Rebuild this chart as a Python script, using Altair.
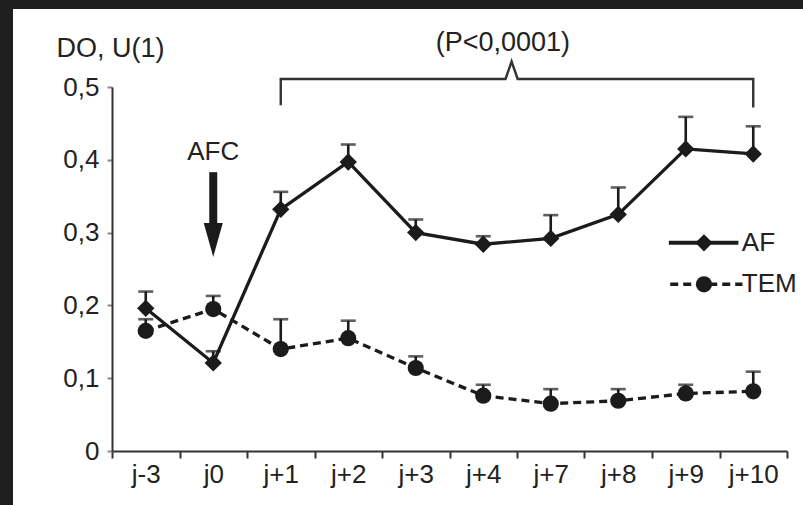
import json
import altair as alt
import pandas as pd

# ---------------- data ----------------
categories = ["j-3", "j0", "j+1", "j+2", "j+3", "j+4", "j+7", "j+8", "j+9", "j+10"]
af_values = [0.196, 0.121, 0.332, 0.397, 0.300, 0.284, 0.292, 0.325, 0.415, 0.408]
af_upper = [0.219, 0.137, 0.356, 0.421, 0.318, 0.295, 0.324, 0.362, 0.459, 0.446]
tem_values = [0.165, 0.195, 0.140, 0.155, 0.114, 0.076, 0.065, 0.069, 0.079, 0.082]
tem_upper = [0.181, 0.213, 0.181, 0.179, 0.130, 0.091, 0.085, 0.085, 0.091, 0.109]
series_names = ["AF", "TEM"]
y_ticks = [0, 0.1, 0.2, 0.3, 0.4, 0.5]
y_title = "DO, U(1)"
p_text = "(P<0,0001)"
afc_text = "AFC"

# annotation anchors (in data units)
brace_x = [2, 2, 5.33, 5.42, 5.51, 9, 9]
brace_y = [0.475, 0.511, 0.511, 0.535, 0.511, 0.511, 0.472]
p_pos = (5.29, 0.561)
afc_pos = (1.0, 0.411)
arrow_shaft = (1.0, 0.383, 0.305)
arrow_head = (1.0, 0.290)
legend_y = [0.286, 0.229]
legend_x0 = [7.75, 7.77]
legend_x1 = [8.78, 8.84]
legend_mark_x = 8.27
legend_text_x = 8.86

rows = []
for i, c in enumerate(categories):
    rows.append(dict(x=i, cat=c, series=series_names[0], y=af_values[i], upper=af_upper[i]))
    rows.append(dict(x=i, cat=c, series=series_names[1], y=tem_values[i], upper=tem_upper[i]))
df = pd.DataFrame(rows)

INK = "#1b1b1b"
AXC = "#333333"
TXT = "#222222"
FRAME = "#1e1e1e"
FONT = "Liberation Sans"
FS = 26
FS_BIG = 27

cat_js = json.dumps(categories).replace('"', "'")
x_vals = [i / 2 - 0.5 for i in range(2 * len(categories) + 1)]

X = alt.X(
    "x:Q",
    scale=alt.Scale(domain=[-0.5, len(categories) - 0.5], nice=False, zero=False),
    axis=alt.Axis(
        values=x_vals,
        labelExpr=f"datum.value % 1 === 0 ? {cat_js}[datum.value] : ''",
        tickSize=7,
        tickColor={"condition": {"test": "datum.value % 1 === 0", "value": "transparent"}, "value": AXC},
        labelFlush=False,
        labelPadding=3,
        title=None,
    ),
)
Y = alt.Y(
    "y:Q",
    scale=alt.Scale(domain=[0, 0.5], nice=False),
    axis=alt.Axis(
        values=y_ticks,
        labelExpr="datum.value == 0 ? '0' : replace(format(datum.value, '.1f'), '.', ',')",
        tickSize=5,
        labelPadding=8,
        title=y_title,
        titleAngle=0,
        titleAlign="left",
        titleBaseline="middle",
        titleX=-56,
        titleY=-39,
        titleFont=FONT,
        titleFontSize=FS_BIG,
        titleFontWeight="normal",
        titleColor=TXT,
    ),
)

base = alt.Chart(df)

# dark frame strips (left and top) around the white page
frame_df = pd.DataFrame({"a": [0]})
frame_left = alt.Chart(frame_df).mark_rect(color=FRAME).encode(
    x=alt.value(-112), x2=alt.value(-99), y=alt.value(-87), y2=alt.value(418)
)
frame_top = alt.Chart(frame_df).mark_rect(color=FRAME).encode(
    x=alt.value(-112), x2=alt.value(691), y=alt.value(-87), y2=alt.value(-78)
)

err_rule = base.mark_rule(strokeWidth=2.6, color=INK).encode(x=X, y=Y, y2="upper:Q")
err_cap = base.mark_tick(orient="horizontal", size=15, thickness=2.6, color=INK).encode(
    x=X, y=alt.Y("upper:Q")
)

af_line = base.transform_filter(alt.datum.series == series_names[0]).mark_line(
    strokeWidth=3.3, color=INK
).encode(x=X, y=Y)
tem_line = base.transform_filter(alt.datum.series == series_names[1]).mark_line(
    strokeWidth=3.3, color=INK, strokeDash=[8, 5]
).encode(x=X, y=Y)
af_pts = base.transform_filter(alt.datum.series == series_names[0]).mark_point(
    shape="diamond", filled=True, size=300, color=INK, opacity=1
).encode(x=X, y=Y)
tem_pts = base.transform_filter(alt.datum.series == series_names[1]).mark_point(
    shape="circle", filled=True, size=262, color=INK, opacity=1
).encode(x=X, y=Y)

brace_df = pd.DataFrame({"x": brace_x, "y": brace_y, "o": list(range(len(brace_x)))})
brace = alt.Chart(brace_df).mark_line(strokeWidth=2.4, color=AXC, clip=False).encode(
    x=X, y=Y, order="o:Q"
)

p_df = pd.DataFrame({"x": [p_pos[0]], "y": [p_pos[1]], "t": [p_text]})
p_label = alt.Chart(p_df).mark_text(font=FONT, fontSize=FS_BIG, color=TXT, align="center", baseline="middle").encode(
    x=X, y=Y, text="t:N"
)
afc_df = pd.DataFrame({"x": [afc_pos[0]], "y": [afc_pos[1]], "t": [afc_text]})
afc_label = alt.Chart(afc_df).mark_text(font=FONT, fontSize=FS, color=TXT, align="center", baseline="middle").encode(
    x=X, y=Y, text="t:N"
)

shaft_df = pd.DataFrame({"x": [arrow_shaft[0]], "y": [arrow_shaft[1]], "y2": [arrow_shaft[2]]})
shaft = alt.Chart(shaft_df).mark_rule(strokeWidth=8, color=INK).encode(x=X, y=Y, y2="y2:Q")
head_df = pd.DataFrame({"x": [arrow_head[0]], "y": [arrow_head[1]]})
head = alt.Chart(head_df).mark_point(
    shape="M-0.56,-1L0.56,-1L0,1Z", filled=True, size=1156, color=INK, opacity=1
).encode(x=X, y=Y)

leg_line_df = pd.DataFrame({
    "x": [legend_x0[0], legend_x1[0], legend_x0[1], legend_x1[1]],
    "y": [legend_y[0], legend_y[0], legend_y[1], legend_y[1]],
    "s": [series_names[0], series_names[0], series_names[1], series_names[1]],
})
leg_af = alt.Chart(leg_line_df).transform_filter(alt.datum.s == series_names[0]).mark_line(
    strokeWidth=4, color=INK
).encode(x=X, y=Y)
leg_tem = alt.Chart(leg_line_df).transform_filter(alt.datum.s == series_names[1]).mark_line(
    strokeWidth=3.5, color=INK, strokeDash=[8, 5]
).encode(x=X, y=Y)
leg_pt_df = pd.DataFrame({"x": [legend_mark_x, legend_mark_x], "y": legend_y, "s": series_names})
leg_af_pt = alt.Chart(leg_pt_df).transform_filter(alt.datum.s == series_names[0]).mark_point(
    shape="diamond", filled=True, size=300, color=INK, opacity=1
).encode(x=X, y=Y)
leg_tem_pt = alt.Chart(leg_pt_df).transform_filter(alt.datum.s == series_names[1]).mark_point(
    shape="circle", filled=True, size=262, color=INK, opacity=1
).encode(x=X, y=Y)
leg_txt_df = pd.DataFrame({"x": [legend_text_x, legend_text_x], "y": legend_y, "t": series_names})
leg_txt = alt.Chart(leg_txt_df).mark_text(
    font=FONT, fontSize=FS, color=TXT, align="left", baseline="middle", dx=-2
).encode(x=X, y=Y, text="t:N")

chart = alt.layer(
    err_rule, err_cap, tem_line, af_line, tem_pts, af_pts, brace, p_label, afc_label, shaft, head,
    leg_af, leg_tem, leg_af_pt, leg_tem_pt, leg_txt, frame_left, frame_top,
).properties(
    width=675,
    height=364,
    background="white",
    padding={"left": 112, "top": 87, "right": 16, "bottom": 54},
    autosize=alt.AutoSizeParams(type="none"),
).configure_view(strokeWidth=0).configure_axis(
    grid=False,
    domainColor=AXC,
    domainWidth=2,
    tickWidth=2,
    labelFont=FONT,
    labelFontSize=FS,
    labelColor=TXT,
)

chart.save("out.html", embed_options={"renderer": "svg", "actions": False})
